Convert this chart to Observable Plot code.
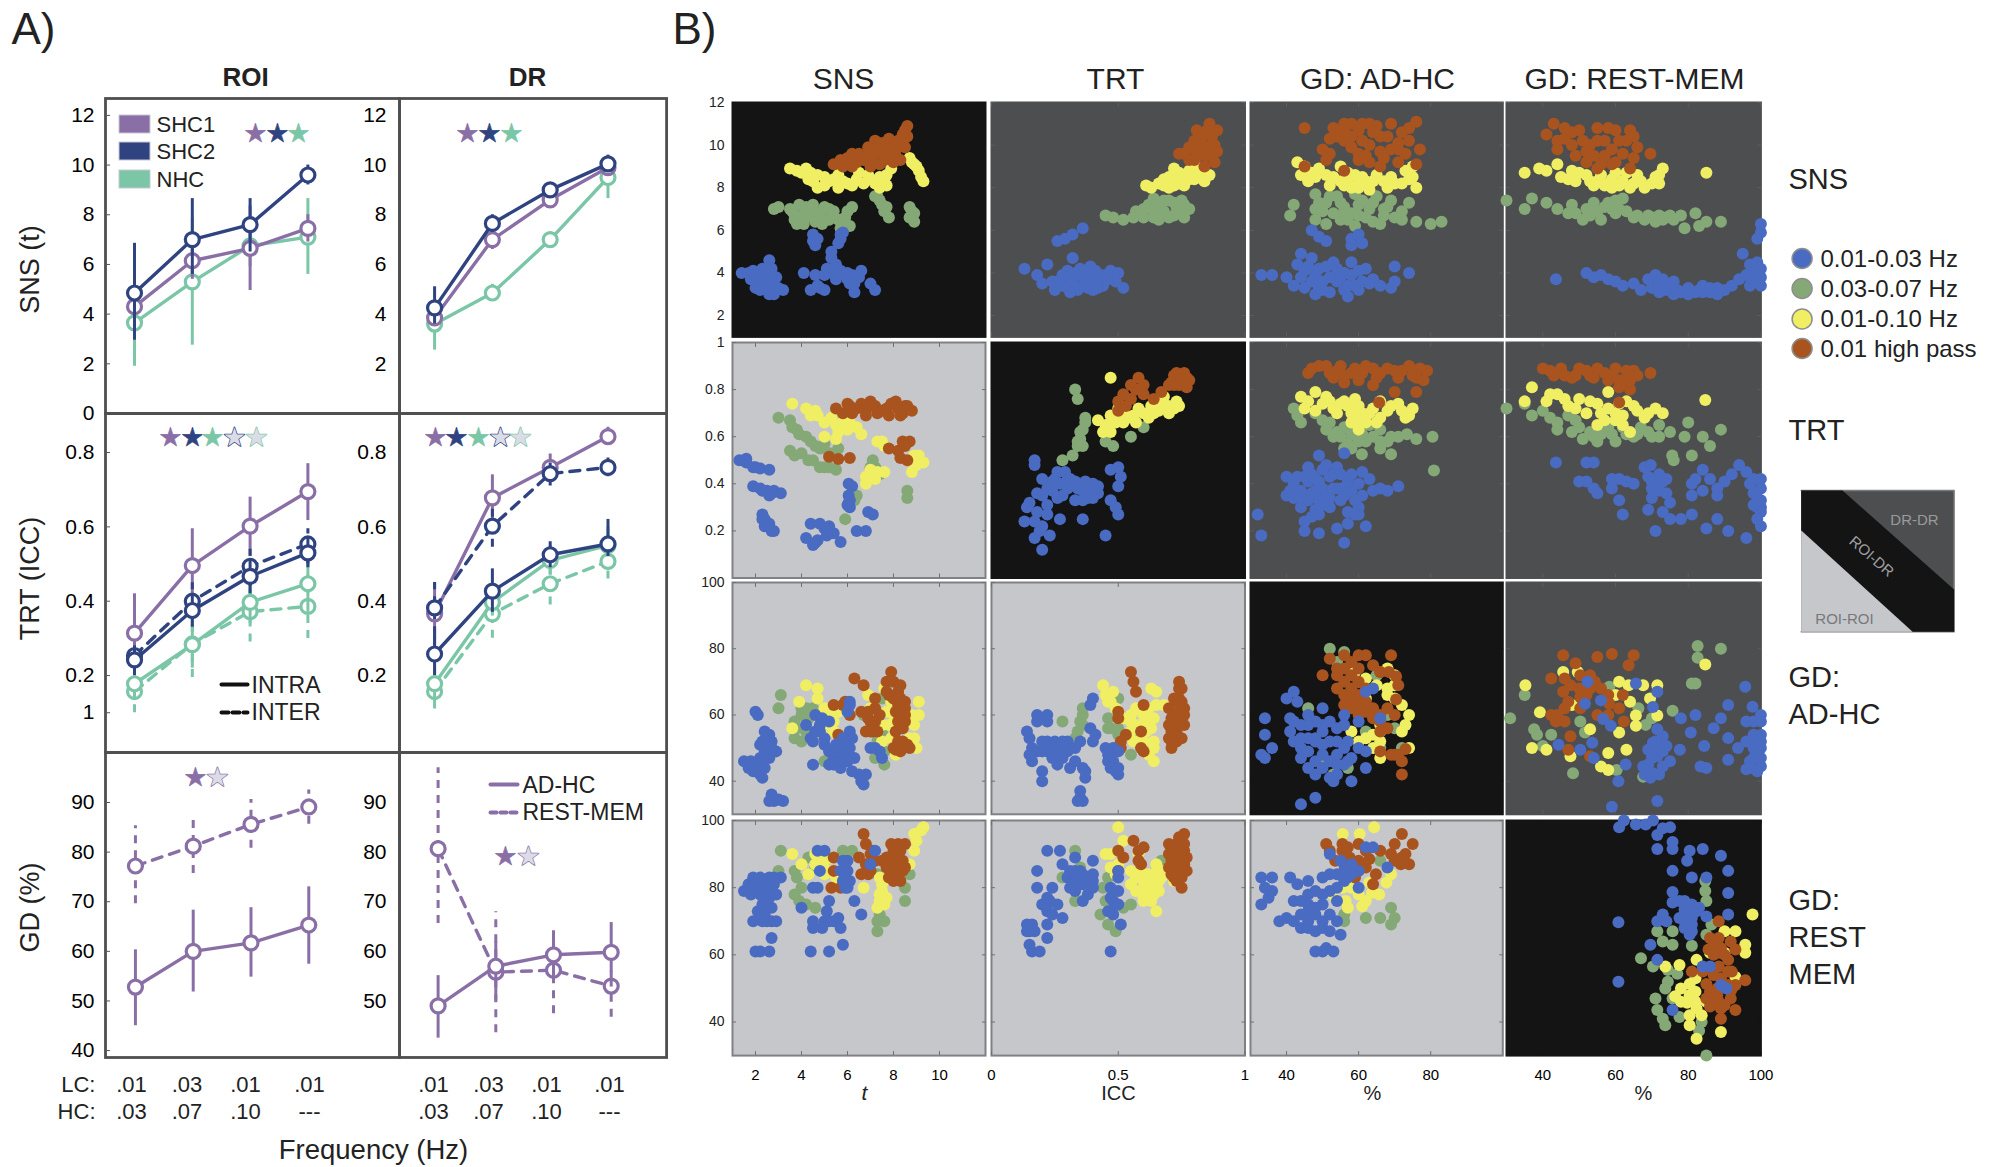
<!DOCTYPE html>
<html><head><meta charset="utf-8">
<script src="https://cdn.jsdelivr.net/npm/d3@7"></script>
<script src="https://cdn.jsdelivr.net/npm/@observablehq/plot@0.6"></script>
<style>
html,body{margin:0;padding:0;background:#fff}
#page{position:relative;width:2001px;height:1167px;overflow:hidden;background:#fff;font-family:"Liberation Sans",sans-serif}
#page svg{position:absolute;overflow:visible;max-width:none;background:transparent}
</style></head><body><div id="page"></div>
<script>
// ---------- Panel A values ----------
const freqIndex=[0,1,2,3];
const purple="#8a6fa6", navy="#2f4380", mint="#7cc6a8";
const snsRoiShc1=[4.3,6.15,6.65,7.45], snsRoiShc1Lo=[3.6,5.4,4.95,6.9], snsRoiShc1Hi=[5,6.9,8.35,8];
const snsRoiShc2=[4.85,7,7.6,9.6], snsRoiShc2Lo=[2.95,5.6,6.5,9.2], snsRoiShc2Hi=[6.85,8.65,8.65,10];
const snsRoiNhc=[3.65,5.3,6.75,7.1], snsRoiNhcLo=[1.9,2.75,5.9,5.6], snsRoiNhcHi=[5.4,7.85,7.6,8.65];
const snsDrShc1=[3.85,7,8.6,9.9], snsDrShc1Lo=[3.5,6.6,8.3,9.7], snsDrShc1Hi=[4.4,7.4,8.9,10.1];
const snsDrShc2=[4.25,7.65,9,10.05], snsDrShc2Lo=[3.6,7.3,8.7,9.8], snsDrShc2Hi=[5.1,8,9.3,10.4];
const snsDrNhc=[3.6,4.85,7,9.5], snsDrNhcLo=[2.55,4.6,6.7,8.65], snsDrNhcHi=[4.5,5.2,7.3,10.3];
const trtRoiShc1=[.314,.496,.602,.695], trtRoiShc1Lo=[.21,.4,.52,.617], trtRoiShc1Hi=[.42,.595,.68,.77];
const trtRoiShc2=[.242,.375,.467,.53], trtRoiShc2Lo=[.2,.33,.42,.49], trtRoiShc2Hi=[.28,.42,.51,.57];
const trtRoiShc2Inter=[.254,.4,.494,.554], trtRoiShc2InterLo=[.21,.35,.44,.5], trtRoiShc2InterHi=[.29,.45,.54,.595];
const trtRoiNhc=[.178,.283,.397,.447], trtRoiNhcLo=[.14,.22,.34,.37], trtRoiNhcHi=[.22,.35,.46,.52];
const trtRoiNhcInter=[.157,.285,.372,.386], trtRoiNhcInterLo=[.1,.195,.29,.3], trtRoiNhcInterHi=[.21,.37,.45,.47];
const trtDrShc1=[.366,.678,.76,.843], trtDrShc1Lo=[.28,.6,.72,.82], trtDrShc1Hi=[.45,.74,.796,.868];
const trtDrShc2=[.258,.427,.525,.554], trtDrShc2Lo=[.2,.37,.49,.52], trtDrShc2Hi=[.31,.487,.56,.62];
const trtDrShc2Inter=[.382,.602,.743,.76], trtDrShc2InterLo=[.31,.545,.71,.735], trtDrShc2InterHi=[.45,.65,.775,.785];
const trtDrNhc=[.178,.397,.51,.55], trtDrNhcLo=[.13,.36,.47,.52], trtDrNhcHi=[.22,.43,.55,.6];
const trtDrNhcInter=[.157,.366,.447,.507], trtDrNhcInterLo=[.11,.3,.39,.46], trtDrNhcInterHi=[.2,.43,.5,.55];
const gdRoiAd=[52.8,60,61.7,65.3], gdRoiAdLo=[45,51.8,54.8,57.4], gdRoiAdHi=[60.3,68.3,68.8,73];
const gdRoiRest=[77.2,81.2,85.6,89.1], gdRoiRestLo=[69.6,75.7,80.8,85.6], gdRoiRestHi=[85.3,87,90.6,92.5];
const gdDrAd=[49,57,59.3,59.8], gdDrAdLo=[42.5,50,54,52.8], gdDrAdHi=[55.1,62,63,65.8];
const gdDrRest=[80.7,55.8,56.2,53], gdDrRestLo=[65.6,43.6,47.4,46.7], gdDrRestHi=[97,68,65.4,56];

// ---------- Panel B values: flat x,y pairs. blue .01-.03, green .03-.07, yellow .01-.10, brown .01 hp ----------
const s11b=[1.4,4,1.7,4,2,3.7,2.3,4.2,2.6,4.6,2.7,4.2,2.9,3.8,2.4,3.6,2.7,3.4,3.2,3.2,2.2,3.2,2.6,3,2.8,3,2,3.3,2.5,3.9,1.8,3.7,3,3.3,2.7,3.7,4.1,4,4.6,3.9,5.3,4,5.3,4.7,5.3,5,5.5,4.4,5.1,4.2,5.6,3.9,6.2,3.9,6.6,4.1,6,3.7,6.3,3.5,6.3,3.1,7,3.5,7.2,3.2,4.4,3.2,5,3.2,4.7,3.4,5.7,4.1,4.5,5.8,4.7,5.6,4.6,5.3,4.5,5.5,5.7,5.8,5.6,5.4,5.8,5.9,5.7,5.6,1.9,4.1,2.2,3.6,2.4,4,2.5,3.3,2.9,3.3,5,3.9,5.5,3.7,5.4,4.2,6,4,6.5,3.8,6.1,3.5,4.8,3.3,2,3.9];
const s11g=[2.8,7,3,7.1,4,6.7,3.7,6.5,3.9,7.2,4.2,7.1,4.5,7.2,5,7.1,4.5,6.6,3.7,6.7,4.1,6.3,4.6,6.4,5,6.5,5.4,6.9,5.9,6.6,6.2,7.1,6.1,6.2,5.7,6.1,5.9,6.3,7.3,7.6,7.5,7.2,7.6,6.9,7.8,6.6,8.7,7.1,8.9,6.8,8.9,6.4,8.7,6.6,7.4,7.4,3.5,7,3.6,6.9,3.8,6.3,4.2,6.7,4.6,6.9,4.8,6.8,4.9,6.3,5.2,7,5.2,6.5,5.6,6.5,6,6.9,7.2,7.6,7.7,7.1,8.8,6.9];
const s11y=[3.5,8.9,4,8.7,4.3,8.4,4.7,8,4.7,8.6,5.2,8.3,5.6,8,5.6,8.6,6,8.2,6.4,8.4,6.7,8.2,7,8.4,7.4,8.5,7.4,8,7.7,8.6,7.9,8.9,8.7,9.4,8.9,9.1,9.1,8.8,9.2,8.5,9.3,8.3,3.8,8.8,4.2,8.9,4.5,8.3,5,8.5,5,8.1,5.4,8.4,5.8,8.3,6.2,8.1,6.5,8.7,6.9,8.6,7.2,8.2,7.6,8.3,7.7,8.1,4.4,8.7,8.8,9.2,9,9];
const s11o=[5.4,9.1,5.7,9.3,6,9.4,6.4,9.2,6.5,9.6,6.9,9.5,7.2,9.6,7.2,10.2,7.5,10.1,7.9,10,7.6,9.5,8.1,9.5,8.2,9.9,8.4,10.1,8.4,10.5,8.6,10.9,8.6,10.4,8,9.2,7,9,7.4,9.1,5.8,9,6.2,9,6.7,9.3,6.9,9.9,7.3,9.9,7.7,9.8,7.8,10.3,8,9.7,8.3,9.3,8.5,9.9,8.5,10.7,8.2,10.2,7,9.3,7.6,9.3,6.2,9.6];
const s12b=[.13,4.2,.18,3.9,.2,3.5,.25,3.2,.26,3.6,.3,3.8,.3,4.1,.32,4.7,.22,4.4,.35,3.9,.36,3.4,.35,4.2,.39,4.3,.4,3.7,.4,3.2,.43,3.9,.44,3.4,.45,3.9,.47,4.1,.5,4,.49,3.6,.52,3.3,.42,3.5,.26,5.5,.29,5.6,.32,5.8,.36,6.1,.24,3.6,.28,3.4,.3,3.3,.32,3.6,.33,4,.37,3.8,.38,3.3,.41,4.1,.42,3.3,.46,3.7,.36,4,.34,3.2,.28,3.9,.31,3.1,.37,4.1];
const s12g=[.45,6.7,.52,6.5,.57,6.9,.6,6.6,.62,7.2,.66,6.5,.66,7,.7,7.4,.72,6.7,.75,7.4,.78,7,.76,6.6,.64,7.5,.68,6.9,.73,7,.48,6.6,.56,6.6,.6,7,.64,6.9,.68,7.4,.7,6.6,.72,7.3,.74,6.9,.64,6.6,.76,7.2,.66,7.3];
const s12y=[.61,8.1,.66,8.2,.7,8.5,.7,8,.74,8.2,.76,8.6,.72,8.9,.78,8.8,.8,9.2,.8,8.4,.84,8.3,.86,8.6,.83,8.9,.63,8,.68,8.4,.72,8.4,.74,8.7,.76,8.1,.8,8.7,.78,8.4,.68,8.1,.82,8.5,.72,8.1];
const s12o=[.74,9.6,.78,9.9,.8,9.3,.84,9,.85,9.5,.88,9.2,.89,9.7,.83,10.3,.87,10.4,.89,10.7,.86,11,.81,10.7,.83,10,.87,10,.8,9.8,.76,9.6,.8,10.2,.84,9.7,.85,10.7,.88,10,.82,9.5,.78,9.3,.87,9.6];
const s13b=[33,3.9,36,3.9,40,3.8,42,3.4,43,4.4,44,4.9,46,4.3,45,3.3,48,3.9,48,3,50,3.6,51,4.3,52,3.1,54,3.6,54,4.2,56,3.2,58,3.9,58,4.5,60,3.2,61,3.6,62,4.2,64,3.7,66,3.4,69,3.3,70,3.6,70,4.3,74,4,57,2.9,47,6,49,5.7,51,5.5,58,5.6,60,5.8,58,5.3,61,5.4,47,3.6,47,4.7,49,4.2,50,3.2,52,3.8,53,4.5,55,3.8,56,4,57,3.4,59,3.4,49,3.3,60,4.1,63,3.5,44,3.8,45,4.1];
const s13g=[42,7.2,41,6.7,48,7.7,48,7,48,6.5,51,7.3,53,6.8,54,7.6,56,7.1,57,6.5,59,7.7,60,7.2,62,6.6,63,7,65,7.6,66,6.3,68,7.1,70,6.6,72,6.9,74,7.3,59,6.2,76,6.4,80,6.3,83,6.4,49,7.3,50,6.9,51,6.3,52,7.6,55,6.5,56,6.9,58,6.8,60,6.7,61,7.4,64,6.4,64,7.3,67,7,67,6.7,69,7.4,72,6.5,55,7.3];
const s13y=[43,9.2,44,8.6,46,8.3,48,8.5,51,8.6,52,8.1,55,8.3,55,9,58,8,59,8.6,62,8.3,63,7.9,65,8.6,68,8,69,8.5,72,8.2,75,8.5,76,8,73,8.8,75,9,45,9,49,8.9,53,8.5,57,8.4,60,8.2,61,8.5,64,8.3,67,8.3,70,8.2,74,8.4,57,8.7,47,8.7,56,8.1,60,8];
const s13o=[45,10.8,50,9.8,51,9.3,45,9,53,10.8,56,11,56,10.2,60,10.7,60,9.6,63,11,63,10,63,9.2,66,10.4,69,9.8,69,11,72,10.6,74,10.2,76,11.1,77,9.8,76,9.1,71,9.2,56,8.8,66,9,60,9.3,52,9.6,54,10.4,56,10.7,58,11,58,10.4,58,9.9,61,10.2,61,11,65,10.9,66,9.7,68,10.4,71,10.1,71,9.8,73,9.6,74,10.8,62,9.5,64,10.6,52,10.3,67,9.4];
const s14b=[43.6,3.7,52,4,54,3.8,56,3.9,58,3.7,60,3.6,62,3.4,65,3.5,67,3.2,69,3.7,70,3.3,71,3.9,72,3.1,74,3.5,76,3,78,3.1,80,3,82,3.1,84,3.4,84,3.1,86,3.1,88,3,90,3.2,92,3.4,94,3.7,96,3.9,97,3.4,99,3.8,100,4.2,100,3.4,97,4.4,95,4.9,100,5.9,99,5.6,100,6.3,72,3.5,73,3.7,74,3.2,75,3.4,76,3.6,77,3.2,80,3.3,83,3.2,86,3.3,88,3.3,98,4,98,3.6,100,3.8,99,4.5];
const s14g=[30,7.4,35,7,37,7.5,41,7.3,44,7,47,6.8,48,7.2,51,6.5,52,7,55,6.9,56,6.5,58,7.3,60,6.8,62,7.5,63,6.9,65,6.6,68,6.5,70,6.6,72,6.7,74,6.6,76,6.5,78,6.7,79,6.1,82,6.8,83,6.2,85,6.4,89,6.4,49,6.8,53,6.7,54,7.3,57,7.1,59,7,61,7,60,7.4,66,6.7,69,6.7,71,6.4,73,6.5,75,6.7];
const s14y=[35,8.7,39,8.9,41,8.8,44,9.1,45,8.5,48,8.8,49,8.3,52,8.6,54,8.1,56,8.6,58,8.2,60,8.7,62,8.3,64,8,66,8.6,68,8,71,8.5,73,8.9,72,8.2,85,8.7,47,8.4,50,8.7,53,8.3,55,8.3,57,8.1,59,8.4,61,8.1,63,8.7,65,8.2,67,8.3,70,8.2,72,8.6,59,8];
const s14o=[43,11,41,10.5,44,10.2,46,10.8,48,10,49,9.5,50,10.7,52,9.2,53,10,55,10.8,57,9.5,57,10.2,59,9.1,60,10.7,62,9.6,63,10.2,65,9.4,66,9.9,69.6,9.6,55,8.9,64,8.9,44,9.8,46,10.3,51,10.2,54,9.5,55,10.2,58,10.8,59,9.8,61,10.2,64,10.7,48,10.6,52,9.7,60,9.2,65,10.4,56,9.1];
const s21b=[1.3,.5,1.6,.506,1.9,.47,2.2,.465,2.6,.46,1.9,.39,2.2,.38,2.5,.37,2.8,.37,3.1,.36,2.6,.35,2.3,.27,2.4,.25,2.6,.23,2.8,.2,2.3,.25,2.7,.2,4.4,.23,4.8,.23,5.2,.22,5.4,.19,4.2,.17,4.5,.14,4.7,.16,5.7,.153,6.4,.2,6.8,.2,6.05,.4,6.2,.39,6,.31,6.05,.32,6.1,.3,6.9,.28,7.1,.27,2,.47,1.6,.49,2.3,.37,2.7,.36,2.4,.22,4.6,.15,5,.21,5.1,.18,6.1,.33,6.05,.35];
const s21g=[3,.68,3.5,.67,3.8,.63,3.9,.61,4.4,.58,4.8,.55,5.2,.53,5.6,.55,3.5,.54,4,.53,4.5,.5,5,.47,5.5,.46,7.1,.5,7.2,.47,8.6,.37,8.6,.34,6.4,.35,6.3,.33,5.9,.25,7.4,.44,3.6,.64,4.2,.6,4.6,.56,5,.57,5.4,.53,3.7,.52,4.3,.5,4.8,.47,5.2,.47,7,.47];
const s21y=[3.6,.74,4.2,.72,4.7,.69,5,.66,5.5,.65,6,.63,5.6,.62,6.4,.64,5,.6,7.3,.58,7.6,.56,8.9,.52,9,.48,9.3,.49,8.8,.45,6.8,.43,7.2,.42,7.6,.45,6.8,.4,4.4,.69,5.3,.68,5.8,.66,6.1,.66,6.6,.61,5.5,.59,4.6,.71,8.9,.49,9.1,.52,7,.46,7.3,.45,7.5,.58];
const s21o=[5.5,.72,6,.74,6.2,.7,6.6,.74,7,.75,7.3,.7,7.7,.72,8.1,.75,8.4,.7,8.8,.71,8.6,.73,7.8,.69,7.8,.55,8.2,.54,8.4,.58,8.7,.58,5.2,.515,5.6,.505,6.1,.51,8.3,.51,8.6,.5,5.8,.7,6.4,.72,6.8,.71,7.2,.73,7.5,.71,7.9,.74,8.2,.72,8.5,.73,8.3,.69,6.8,.69,6.1,.73,8.5,.56];
const s22b=[.17,.5,.17,.48,.26,.45,.24,.41,.22,.38,.27,.4,.31,.42,.34,.38,.37,.41,.4,.4,.42,.36,.38,.34,.33,.33,.28,.35,.2,.35,.15,.32,.14,.3,.18,.28,.22,.31,.13,.24,.2,.22,.23,.18,.17,.17,.2,.12,.27,.25,.36,.25,.45,.18,.47,.46,.5,.47,.51,.43,.5,.39,.47,.33,.49,.3,.5,.27,.3,.42,.2,.42,.24,.37,.26,.34,.3,.38,.33,.41,.36,.37,.38,.38,.42,.39,.4,.34,.36,.33,.18,.36,.22,.27,.19,.2,.17,.24,.25,.42,.29,.45];
const s22g=[.33,.8,.34,.76,.37,.68,.36,.63,.35,.59,.34,.56,.32,.52,.28,.5,.45,.58,.48,.56,.55,.6,.6,.64,.35,.62,.34,.58,.37,.66,.36,.56];
const s22y=[.47,.85,.42,.67,.44,.62,.47,.69,.47,.62,.5,.72,.52,.66,.56,.69,.6,.7,.63,.73,.66,.71,.68,.77,.73,.75,.7,.7,.74,.73,.45,.65,.49,.66,.5,.69,.54,.68,.58,.72,.62,.68,.64,.7,.67,.74,.7,.73,.72,.72,.52,.71,.57,.66];
const s22o=[.5,.75,.5,.71,.52,.78,.55,.82,.55,.76,.58,.85,.6,.82,.6,.78,.64,.76,.67,.79,.7,.82,.73,.87,.76,.87,.78,.84,.74,.82,.77,.81,.75,.85,.71,.83,.53,.73,.57,.8,.72,.86,.74,.85,.77,.85,.72,.82];
const s23b=[32,.27,33,.18,40,.43,41,.37,40,.35,43,.43,44,.37,44,.3,46,.47,46,.41,46,.33,48,.42,48,.37,48,.29,49,.52,50,.46,50,.38,52,.43,52,.34,52,.3,54,.47,54,.38,55,.33,56,.53,58,.44,58,.37,60,.3,57,.28,63,.42,64,.37,66,.38,68,.37,71,.39,45,.24,47,.26,49,.27,45,.2,49,.19,54,.21,62,.22,56,.15,60,.27,59,.27,57,.23,42,.34,42,.4,44,.34,45,.43,47,.36,47,.44,49,.33,49,.41,51,.35,51,.48,53,.38,53,.44,55,.38,55,.44,56,.35,57,.41,60,.4,59,.33,61,.35,61,.45,50,.31];
const s23g=[42,.72,43,.69,44,.66,48,.7,50,.67,52,.66,54,.62,56,.64,58,.61,60,.58,63,.65,66,.63,66,.58,69,.6,71,.6,73.4,.61,76,.59,80.5,.6,66,.55,80.9,.456,69,.525,60.9,.525,51,.63,53,.6,55,.6,57,.57,59,.63,61,.61,64,.6,62,.58,68,.58,58,.55,56,.55];
const s23y=[44,.77,46,.75,48,.79,51,.77,53,.72,56,.75,58,.7,60,.73,63,.7,66,.75,68,.71,71,.74,73,.68,75,.72,58,.66,62,.66,48,.71,60,.63,50,.74,52,.75,54,.7,55,.74,57,.73,59,.76,61,.7,64,.72,66,.68,69,.73,72,.71,74,.69,60,.67,65,.66,45,.72];
const s23o=[46,.87,49,.9,52,.87,55,.9,58,.87,60,.84,62,.9,65,.85,68,.89,71,.85,74,.9,76,.85,79,.88,78,.84,56,.83,64,.82,70,.79,65.7,.745,76,.79,47,.89,51,.9,53,.85,56,.86,59,.89,61,.87,64,.89,66,.87,70,.88,72,.88,77,.89,75,.86,54,.88];
const s24b=[43.6,.49,52,.49,54,.49,52,.41,50,.41,54,.38,55,.36,59,.42,59,.38,61,.33,61,.42,63,.41,65,.4,68,.47,69,.43,70,.38,70,.34,72,.44,72,.37,73,.41,74,.36,75,.32,69,.29,73,.28,75,.25,78,.25,62,.27,71,.2,81,.35,81,.4,84,.46,82,.42,84,.37,86,.42,88,.38,90,.41,88,.35,92,.44,94,.48,96,.45,97,.4,98,.36,99,.3,100,.42,100,.28,100,.22,91,.2,88,.25,85,.21,96,.17,81,.27,69.7,.48,98,.42,100,.38,99,.34,100,.33,98,.31,72,.4,74,.42,70,.41,100,.3,99,.25];
const s24g=[30,.72,35,.74,37,.69,40,.71,42,.68,44,.63,47,.69,49,.67,51,.59,53,.62,55,.58,57,.65,59,.61,62,.64,65,.6,67,.64,70,.6,72,.65,75,.62,79,.6,80,.66,84,.6,86,.56,89,.63,76,.5,75.6,.52,81,.52,44,.66,48,.62,50,.64,54,.6,56,.61,58,.64,60,.58,63,.61,66,.61,69,.62,72,.6];
const s24y=[37,.81,35,.75,41,.75,44,.78,47,.73,50,.76,52,.7,55,.74,58,.79,60,.7,63,.75,66,.71,68,.68,71,.72,73,.7,55,.65,60,.67,64,.62,84.7,.756,42,.78,46,.76,49,.72,53,.75,56,.7,58,.72,61,.74,62,.69,65,.73,69,.7,57,.67,62,.65];
const s24o=[40,.89,43,.86,45,.89,48,.85,50,.89,53,.86,55,.89,58,.84,60,.89,63,.85,65,.88,62,.82,64,.8,69.6,.87,61,.745,42,.88,46,.86,49,.86,52,.88,54,.85,57,.87,59,.86,61,.84,63,.88,66,.86,64,.84,61,.81];
const s31b=[1.5,46,1.7,44,1.9,43,2.2,42,2.3,41,2.1,45,2.4,44,2.6,47,2.4,49,2.2,51,2.7,52,2.6,54,2.4,55,2.9,49,2.7,50,2.2,47,2.5,52,2,61,2.1,60,2.7,36,2.8,34,3,34.5,3.2,34,2.6,34,4.2,57,4.4,53,4.6,55,4.6,60,4.9,59,5.2,58,4.8,57,4.5,52,4.5,45,5,51,5.2,49,5.4,47,5.2,45,5.6,46,5.8,50,5.9,48,6,53,6.1,55,6.1,50,6.3,47,6.2,53,5.5,51,6.1,64,6,61,6.1,63,6.2,43,6.5,42,6.6,40,6.7,39,6.8,42,7.2,50,7.4,49,7.5,47,7,50,2.3,46,2.5,50,2.3,52,2,44,1.8,46,4.8,55,5,53,5.4,49,5.6,49,5.4,45,5.8,53,5.7,44,6,46];
const s31g=[3.1,66,3,62,3.7,58,4,62,4.2,62,4.5,62,4.7,60,3.7,53,4,52,4.2,55,5,46,7.3,52,7.6,49,7.6,45,7.2,47,7.5,55,7.5,65,6.7,60,7,58,8,60,4,60,4.3,59,3.8,56];
const s31y=[4.2,69,4.7,68,3.9,64,4.7,65,5,62,5.2,60,3.6,56,5.4,58,4.9,54,5.6,61,6.9,66,7,62,7.5,57,7.9,53,8,60,7.6,68,8.8,60,9.1,60,9.1,64,8.9,57,9,50,8.7,53,7.5,52,5,57,5.4,55,8.1,48,7.8,57,7.7,61,7.9,64,8.9,53];
const s31o=[5.4,63,5.8,63,5.6,54,6.1,60,5.9,64,6.3,71,6.7,69,6.6,61,7,58,7.2,62,7.1,55,7.4,60,7.3,55,6.8,55,7.7,70,7.9,73,8,70,8.2,67,8.3,69,7.8,66,8.5,64,8.5,62,8.1,61,8.2,58,8.1,55,8.2,52,8.3,49,8,50,8.6,51,8.7,50,8.4,56,8.5,60,6.9,59,7.2,58,6.9,61,7.2,65,7.7,67,8,65,8.3,65,8.2,63,8.5,58,8.4,52,8.1,49.5,7,55];
const s32b=[.14,55,.15,53,.16,50,.16,46,.18,60,.18,58,.22,60,.22,58,.2,52,.22,49,.24,47,.25,52,.26,45,.27,50,.3,52,.3,49,.33,50,.31,44,.35,52,.2,49,.2,43,.2,40,.36,44,.37,41,.37,43,.35,37,.35,35,.36,34,.34,34,.4,65,.39,63,.39,56,.41,54,.4,52,.45,50,.46,48,.48,46,.5,44,.5,42,.48,50,.5,49,.24,50,.26,48,.28,47,.22,52,.33,46,.46,46,.47,44,.49,43,.18,49,.15,48,.28,52];
const s32g=[.28,58,.33,53,.34,55,.35,58,.36,60,.36,62,.36,57,.46,59,.47,56,.5,54,.5,65,.49,50,.55,48,.57,52,.34,52,.46,56,.5,56];
const s32y=[.44,69,.45,66,.47,64,.49,62,.48,67,.52,59,.55,60,.55,55,.58,57,.6,60,.58,52,.62,62,.63,56,.64,52,.64,46,.63,68,.65,67,.62,48,.64,59,.68,63,.55,58,.57,62,.59,61,.6,52,.62,58,.61,55,.56,52,.65,63,.46,64,.64,50];
const s32o=[.55,73,.56,70,.57,67,.6,63,.5,61,.5,59,.51,52,.51,50,.53,54,.59,55,.59,50,.6,49,.74,70,.75,68,.74,65,.7,62,.72,60,.75,59,.7,57,.73,55,.76,57,.7,53,.73,52,.71,50,.74,61,.76,62,.73,64,.72,57,.71,59,.74,57,.71,55,.75,53,.72,53,.75,64,.73,59,.76,60,.72,65,.74,68,.71,52];
const s33b=[34,59,34,54,33,48,36,50,34,47,40,65,43,64,42,67,41,59,41,55,42,52,44,50,44,47,46,44,48,42,46,49,48,52,50,55,50,62,52,58,52,52,54,48,54,45,53,40,50,48,48,58,46,57,56,60,54,56,57,52,58,47,58,40,57,46,60,58,62,49,60,50,62,67,64,68,48,53,44,33,48,35,62,44,66,59,44,53,46,53,48,46,50,51,50,44,52,46,54,52,56,45,56,50,46,60,44,57,42,58,52,41,54,42,50,57,56,57];
const s33g=[52,80,56,79,54,76,46,62,62,55,68,60,70,56,72,50,66,50,57,44,53,42,60,70,65,72,50,47];
const s33y=[62,71,65,69,68,74,70,72,70,65,72,63,74,60,73,57,62,65,64,60,66,57,66,55,62,53,64,50,66,47,58,55,60,52,74,50,59,73,70,69,68,68,64,54,66,52,68,66,72,55];
const s33o=[52,77,54,74,50,72,56,78,58,76,60,78,62,78,64,75,66,73,69,78,68.4,73,70.4,71.6,71,69,66,73,70.4,64.7,56,70,58,68,60,66,58,65,60,63,56,63,62,61,60,60,64,59,66,58,68,56,70,60,68,62,70,48,71,48,72,46,73,49.7,72,42,69,48,66,49,54,68,56,66,54,72,58,72,60,74,62,68,58,62,60,70,64,62,66,60,56,74,66,55,62,64];
const s34b=[95.7,68.5,91,63,97.7,62.5,100,60,96,58,98,58,100,58,89,59,78,59,82,60,80.7,54.7,87,56,91,53,98,54,100,54,100,50,98,50,93.7,50,97,46,100,44.5,96,43.6,91,46.5,83.4,44.4,85,44,84.4,50.6,77.7,49.5,70.3,51.6,73,53.6,74,50.6,69,49.5,71.5,47.5,67.6,44.4,70.3,42.4,73,44.4,71.5,55.7,69.6,41,60.8,40,62.8,45,71.5,34,59,32.3,51.6,63.4,56,64.4,52.3,70,65.6,69.5,71.5,67,70.3,62.4,56.6,58.8,58.7,56.7,53.6,51.6,44.3,51,50.3,49.5,54,47,72,50,71,52,73,49,70,47,69,45,72,42,68,42,75,46,100,47,98,47,96,52,99,52,100,52,97,44,99,43];
const s34g=[82.6,80.8,89,80,82.6,77.3,81,69.5,82,69.5,75.7,61.3,35,66,31,59,37.6,55.7,38.4,54,68.3,57,70,59,66.3,62,58.3,68.5,50.3,58,51.6,54.7,42.3,54,40,50.6,48.3,42.4,67.6,41.3,60.3,43.4];
const s34y=[84.7,75.2,35.2,69,39.2,60.8,37,50,41,49.5,45.6,73,49.6,73,61,70,63.6,69,67.6,69,71.5,69,69.5,65,65.6,59.8,65.6,56.7,71.5,59.8,61,54.7,63,49.5,47.6,47.5,58,48.5,56,44.4,58,43.4,53,55.7,48,63,60,66,64,64];
const s34o=[45.6,78,49,75.6,55,77.5,59,78.4,65,78,63.6,75,50.3,72,42.3,71,47.6,69,53,68,45.6,67,50.3,65.4,54.3,70,62,66,58.3,63.4,46,62,42.3,60,43.6,58,50.3,62,55,60,61,62,62.3,58,47.6,53.6,47,49.5,53,47.5,46,71,50,68,53,72,47,64,52,66,56,68,58,60,44,60,46,58,58,66];
const s41b=[1.5,79,1.7,81,1.9,83,2.2,83,2.4,81,2.1,79,1.8,78,2.4,77,2.6,79,2.8,81,3.1,83,2.8,83,2.5,75,2.4,72,2.1,73,1.9,70,2.7,70,2.9,70,2.5,70,2.7,65,2,61,2.2,61,2.6,61,4,74,4.5,80,4.7,80,4.7,91,5,91,4.8,85,5.2,76,5.1,73,5,70,5.4,70,5.7,68,5.6,71,4.5,70,4.5,68,4.4,61,5.2,61,5.8,63,5.7,85,6,88,6,85,6.1,82,5.9,80,5.8,88,6.3,76,6.6,72,7,87,7.2,91,2,81,2.2,81,2.6,83,1.9,79,2.3,75,2.7,74,2.3,70,2.6,77,2.9,78,2.2,78,5.9,84,5.8,82,6,80,5.9,86,5.2,70,4.9,68];
const s41g=[3.1,91,3,85,3.7,85,3.8,83,4,80,3.7,78,3.9,76,4.2,75,4.6,74,4.3,89,5.8,91,6.2,91,7.3,84,7.3,70,7.4,72,7.3,67,7.6,70,8.5,80,8.5,76,8.7,84,4.6,86];
const s41y=[3.6,90,4,87,4.3,84,4.6,90,5,88,5.2,85,5.5,83,5.7,81,5.3,89,6.7,80,7.4,83,7.5,79,7.7,77,7.3,74,7.4,76,8.7,87,9,94,9.2,97,9.3,98,8.9,91,8.9,96,5,84,4.6,87,7.5,81,7.6,75,7.4,78];
const s41o=[5.4,89,5.4,85,5.3,80,5.7,80,6.7,96,6.8,93,7,90,6.6,84,6.9,84,7.2,88,7.5,88,7.9,93,8,88,8.2,93,8.5,93,8.4,88,7.9,85,8.2,84,8,82,8.3,82,8.5,86,8.1,90,7.7,86,6.5,89,8,91,8.3,91,7.7,89,8.1,86,8.4,85,7.8,83,7.1,91,6.8,87,7,85];
const s42b=[.18,85,.18,80,.14,69,.16,69,.14,67,.17,67,.15,63,.16,61,.19,61,.2,75,.22,73,.23,76,.24,80,.24,72,.22,69,.26,75,.28,71,.22,65,.22,91,.27,91,.28,87,.3,83,.33,82,.35,85,.33,89,.33,79,.36,81,.38,78,.36,76,.4,82,.4,88,.4,84,.38,83,.47,61,.47,77,.5,83,.5,79,.49,75,.48,72,.51,69,.46,73,.5,85,.31,80,.33,85,.35,81,.38,82,.36,84,.4,80,.31,85,.22,75,.22,77,.48,76,.5,75,.47,80,.15,67];
const s42g=[.33,91,.35,86,.28,83,.33,76,.44,80,.45,76,.43,72,.46,69,.49,67,.52,74,.46,83,.55,75,.67,88];
const s42y=[.5,98,.52,94,.45,90,.47,86,.49,84,.55,85,.55,81,.57,79,.6,82,.62,80,.63,76,.59,85,.64,84,.66,79,.65,73,.6,76,.65,87,.68,85,.72,82,.58,90,.6,77,.58,84,.6,80,.62,84,.64,81,.61,78,.63,82,.66,82,.57,83,.67,83,.64,78,.47,90,.5,87];
const s42o=[.52,89,.5,91,.56,94,.58,91,.6,92,.58,88,.59,87,.5,85,.7,93,.73,93,.76,96,.76,91,.7,90,.74,89,.76,87,.7,86,.73,86,.71,84,.75,83,.73,82,.75,80,.77,89,.72,91,.73,90,.75,91,.71,88,.74,84,.72,87,.72,83,.76,93,.74,95,.77,85];
const s43b=[33,83,34,80,35,77,33,75,36,83,41,83,43,81,42,76,38,70,40,71,42,70,44,68,46,70,48,67,50,70,52,67,48,72,46,75,50,75,48,79,46,82,50,83,52,79,54,76,54,70,55,66,51,62,50,61,48,61,53,61,52,90,55,88,56,85,54,84,57,83,60,80,60,85,62,92,64,92,68,86,58,87,36,79,44,72,46,73,44,76,48,74,46,78,50,78,52,72,50,68,52,84,54,80,56,82,58,84,46,68];
const s43g=[56,70,56,72,66,71,69,74,70,71,69,69,62,71,66,88];
const s43y=[55.6,96,60.3,96,64.3,98,52.9,78,55.6,80,56.4,76,57,74,61,74.5,65.7,78,63.7,78.5,69,84,67.7,81.5,63,81.5,58,80,60,78,62,76];
const s43o=[51,93,55.5,93,60,93,72,96,70,93,75,93,73,90,71.7,87,74,87,69,90,66,91,63,88.5,57.5,89,53.5,88,60,85,59,83,64.8,84,64,81,55.5,91,52,91,57,92,62,91,70,88,72,89,58,88,62,86,60,88,56,87];
const s44b=[61,98,62.3,100,65.6,98.8,68.3,98.8,70.3,100,73,97.7,75,98,71.5,95.7,75.7,93.6,71.5,91.5,75.7,91.5,80.4,91,84,91.5,79.7,88,89,89.5,91,85,75.7,85,81,83,85,83,75.7,78.7,91,78.4,75.7,75.6,77.6,76,81,75,79,73.5,82.3,73,77.6,71,81,71,85,71.4,91,72,73,72,71.5,70,60.8,69.7,74,70,79,68,81,67,80.4,66,69.6,63,60.8,52,71.5,58.5,86,56.5,84,56.5,90.5,50,75.7,43.6,89,51,79,76,81,73,80,72,79,71,83,74,79,70,81,69];
const s44g=[84.7,82,84.7,79,85,76,71.5,67,75.7,67,73,64,75.7,63,67,59,70.3,56.5,74.4,55.5,74.4,52,73.7,50,75.7,47,71,47,71.5,43.6,73,41,73.7,39,77.6,41.5,83.7,40,85,30,83,37.4,81,62.7,86.4,69,85,66,77,54.4];
const s44y=[97.7,72,93,67,95.7,63,95.7,60.6,90,67,73.7,56.5,77.6,57,82.3,58.5,80.4,51.3,80.4,48,76.4,47.7,79.7,45.7,82.3,44,80.4,42,83.7,42,80.4,39,82.3,35,89,37,85,46,90,60.6,93,53.4,86,60.6,82,53,78,50,82,49,78,46,82,46];
const s44o=[88.4,70,86,65,88.4,65,91.7,64,93,61.6,85.6,61.6,88.4,60.6,91,58.5,84,55,88.4,56.5,92,55,81,55,95.7,52.4,93,51,91.7,49.3,85,51.3,85,47,88.4,46,91.7,47,86,44.6,89,44,93,43.6,89,41,87,63,89,62,90,60,87,60,91,55,89,53,87,54,88,50,91,51,86,49,90,45,88,48,92,50,87,47];

// ---------- Tick values and text ----------
const snsTicksA=[0,2,4,6,8,10,12], trtTicksA=[.2,.4,.6,.8], gdTicksA=[40,50,60,70,80,90];
const lcLabels=[".01",".03",".01",".01"], hcLabels=[".03",".07",".10","---"];
const tTicks=[2,4,6,8,10], iccTicks=[0,.5,1], pctTicks3=[40,60,80], pctTicks4=[40,60,80,100];
const snsTicksB=[2,4,6,8,10,12], trtTicksB=[.2,.4,.6,.8,1], gdTicksB=[40,60,80,100];
const gridColors={blue:"#4a6bc2",green:"#85a877",yellow:"#f0ee62",brown:"#a9541f"};
const black="#141414", dark="#4d4e50", light="#c6c7ca";

const page=document.getElementById("page");
const ff='"Liberation Sans",sans-serif';
function place(opts,l,t,w,h){
  const s=Plot.plot({width:w,height:h,marginTop:0,marginRight:0,marginBottom:0,marginLeft:0,
    style:{background:"transparent",overflow:"visible",fontFamily:ff,position:"absolute",left:l+"px",top:t+"px"},...opts});
  page.appendChild(s);
}
function rows(v,lo,hi){return freqIndex.map(i=>({i,v:v[i],lo:lo[i],hi:hi[i]}));}
function series(v,lo,hi,color,dashed){
  const d=rows(v,lo,hi), dash=dashed?"10,8":null;
  return [
    Plot.ruleX(d,{x:"i",y1:"lo",y2:"hi",stroke:color,strokeWidth:3,strokeDasharray:dashed?"8,7":null}),
    Plot.line(d,{x:"i",y:"v",stroke:color,strokeWidth:3.4,strokeDasharray:dash}),
    Plot.dot(d,{x:"i",y:"v",r:7,fill:"white",stroke:color,strokeWidth:3.2})
  ];
}
function panelA(box,xd,yd,ticks,fmt,isRoi,marks){
  const axis=isRoi
    ?Plot.axisY(ticks,{anchor:"left",label:null,tickSize:-5,tickPadding:16,tickFormat:fmt,fontSize:21,stroke:"#555"})
    :Plot.axisY(ticks,{anchor:"left",label:null,tickSize:0,tickPadding:13,tickFormat:fmt,fontSize:21});
  place({x:{domain:xd,axis:null},y:{domain:yd,axis:null},marks:[Plot.frame({stroke:"#4f4f4f",strokeWidth:2.8}),axis,...marks]},box[0],box[1],box[2],box[3]);
}
const trtFmt=d=>d===.1?"1":d.toFixed(1);
panelA([105.4,98,294,315],[-.502,4.585],[0,12.68],snsTicksA,String,true,[
  ...series(snsRoiNhc,snsRoiNhcLo,snsRoiNhcHi,mint),...series(snsRoiShc1,snsRoiShc1Lo,snsRoiShc1Hi,purple),...series(snsRoiShc2,snsRoiShc2Lo,snsRoiShc2Hi,navy)]);
panelA([399.4,98,267.1,315],[-.607,4.014],[0,12.68],snsTicksA.slice(1),String,false,[
  ...series(snsDrNhc,snsDrNhcLo,snsDrNhcHi,mint),...series(snsDrShc1,snsDrShc1Lo,snsDrShc1Hi,purple),...series(snsDrShc2,snsDrShc2Lo,snsDrShc2Hi,navy)]);
panelA([105.4,413,294,339],[-.502,4.585],[-.007,.905],[.1,...trtTicksA],trtFmt,true,[
  ...series(trtRoiNhcInter,trtRoiNhcInterLo,trtRoiNhcInterHi,mint,true),...series(trtRoiNhc,trtRoiNhcLo,trtRoiNhcHi,mint),
  ...series(trtRoiShc1,trtRoiShc1Lo,trtRoiShc1Hi,purple),...series(trtRoiShc2Inter,trtRoiShc2InterLo,trtRoiShc2InterHi,navy,true),...series(trtRoiShc2,trtRoiShc2Lo,trtRoiShc2Hi,navy)]);
panelA([399.4,413,267.1,339],[-.607,4.014],[-.007,.905],trtTicksA,trtFmt,false,[
  ...series(trtDrNhcInter,trtDrNhcInterLo,trtDrNhcInterHi,mint,true),...series(trtDrNhc,trtDrNhcLo,trtDrNhcHi,mint),
  ...series(trtDrShc1,trtDrShc1Lo,trtDrShc1Hi,purple),...series(trtDrShc2Inter,trtDrShc2InterLo,trtDrShc2InterHi,navy,true),...series(trtDrShc2,trtDrShc2Lo,trtDrShc2Hi,navy)]);
panelA([105.4,752,294,305],[-.518,4.57],[38.6,100.08],gdTicksA,String,true,[
  ...series(gdRoiRest,gdRoiRestLo,gdRoiRestHi,purple,true),...series(gdRoiAd,gdRoiAdLo,gdRoiAdHi,purple)]);
panelA([399.4,752,267.1,305],[-.669,3.96],[38.6,100.08],gdTicksA.slice(1),String,false,[
  ...series(gdDrRest,gdDrRestLo,gdDrRestHi,purple,true),...series(gdDrAd,gdDrAdLo,gdDrAdHi,purple)]);

// ---------- Panel B ----------
const pairs=a=>{const o=[];for(let i=0;i<a.length;i+=2)o.push({x:a[i],y:a[i+1]});return o;};
const colsB=[{l:732.4,w:253,d:[1,12],t:tTicks},{l:990.5,w:253.5,d:[0,1],t:iccTicks},{l:1249.7,w:252.3,d:[30,100],t:pctTicks3},{l:1506,w:254.4,d:[30,100],t:pctTicks4}];
const rowsB=[{t:101.6,h:234.4,d:[1,12],k:snsTicksB},{t:341.5,h:235.5,d:[0,1],k:trtTicksB},{t:582,h:231.8,d:[30,100],k:gdTicksB},{t:819.7,h:235.1,d:[30,100],k:gdTicksB}];
const bgGrid=[[black,dark,dark,dark],[light,black,dark,dark],[light,light,black,dark],[light,light,light,black]];
const ptsGrid=[[[s11g,s11y,s11o,s11b],[s12g,s12y,s12o,s12b],[s13g,s13y,s13o,s13b],[s14g,s14y,s14o,s14b]],
[[s21g,s21y,s21o,s21b],[s22g,s22y,s22o,s22b],[s23g,s23y,s23o,s23b],[s24g,s24y,s24o,s24b]],
[[s31g,s31y,s31o,s31b],[s32g,s32y,s32o,s32b],[s33g,s33y,s33o,s33b],[s34g,s34y,s34o,s34b]],
[[s41g,s41y,s41o,s41b],[s42g,s42y,s42o,s42b],[s43g,s43y,s43o,s43b],[s44g,s44y,s44o,s44b]]];
const order=[gridColors.green,gridColors.yellow,gridColors.brown,gridColors.blue];
rowsB.forEach((R,r)=>colsB.forEach((C,c)=>{
  const bg=bgGrid[r][c], tk=bg===light?"#6f7073":bg===dark?"#5c5d60":"#141414";
  const marks=[Plot.frame({fill:bg,stroke:bg===light?"#808184":bg,strokeWidth:2}),
    Plot.axisX(C.t,{anchor:"top",label:null,tickSize:-4,tickFormat:()=>"",stroke:tk}),
    Plot.axisY(R.k,{anchor:"right",label:null,tickSize:-4,tickFormat:()=>"",stroke:tk}),
    c===0?Plot.axisY(R.k,{anchor:"left",label:null,tickSize:-4,tickPadding:12,tickFormat:String,fontSize:14,stroke:tk,color:"#222"})
         :Plot.axisY(R.k,{anchor:"left",label:null,tickSize:-4,tickFormat:()=>"",stroke:tk}),
    r===3?Plot.axisX(C.t,{anchor:"bottom",label:null,tickSize:-4,tickPadding:18,tickFormat:String,fontSize:15,stroke:tk})
         :Plot.axisX(C.t,{anchor:"bottom",label:null,tickSize:-4,tickFormat:()=>"",stroke:tk}),
    ...ptsGrid[r][c].map((a,i)=>Plot.dot(pairs(a),{x:"x",y:"y",r:6,fill:order[i],stroke:"none"}))];
  place({x:{domain:C.d,axis:null},y:{domain:R.d,axis:null},marks},C.l,R.t,C.w,R.h);
}));

// ---------- Page-level annotations (titles, legends, key) in page coordinates ----------
const textLabels=[
 {t:"A)",x:11,y:43,s:44},{t:"B)",x:672,y:43,s:44},
 {t:"SHC1",x:156,y:131,s:22},{t:"SHC2",x:156,y:158,s:22},{t:"NHC",x:156,y:186,s:22},
 {t:"INTRA",x:251,y:692,s:23},{t:"INTER",x:251,y:719,s:23},
 {t:"AD-HC",x:522,y:792,s:23},{t:"REST-MEM",x:522,y:819,s:23},
 {t:"SNS",x:1788,y:188,s:29},{t:"TRT",x:1788,y:439,s:29},
 {t:"GD:",x:1788,y:686,s:29},{t:"AD-HC",x:1788,y:723,s:29},
 {t:"GD:",x:1788,y:909,s:29},{t:"REST",x:1788,y:946,s:29},{t:"MEM",x:1788,y:983,s:29},
 {t:"0.01-0.03 Hz",x:1820,y:266,s:24},{t:"0.03-0.07 Hz",x:1820,y:296,s:24},{t:"0.01-0.10 Hz",x:1820,y:326,s:24},{t:"0.01 high pass",x:1820,y:356,s:24}
];
const centerLabels=[
 {t:"SNS",x:843,y:88,s:30},{t:"TRT",x:1115,y:88,s:30},{t:"GD: AD-HC",x:1377,y:88,s:30},{t:"GD: REST-MEM",x:1634,y:88,s:30},
 {t:"Frequency (Hz)",x:373,y:1158,s:27.5},
 {t:"ICC",x:1118,y:1099,s:20},{t:"%",x:1372,y:1099,s:20},{t:"%",x:1643,y:1099,s:20},
 ...lcLabels.flatMap((t,i)=>[{t,x:[131,186.5,245,309][i],y:1091,s:22},{t,x:[433,488,546,609][i],y:1091,s:22}]),
 ...hcLabels.flatMap((t,i)=>[{t,x:[131,186.5,245,309][i],y:1118,s:22},{t,x:[433,488,546,609][i],y:1118,s:22}])
];
const endLabels=[{t:"LC:",x:95,y:1091,s:22},{t:"HC:",x:95,y:1118,s:22}];
const boldTitles=[{t:"ROI",x:245,y:85},{t:"DR",x:527,y:85}];
const yTitles=[{t:"SNS (t)",x:30,y:269},{t:"TRT (ICC)",x:30,y:578},{t:"GD (%)",x:30,y:907}];
const legendSwatches=[{y1:115,y2:133,c:purple},{y1:142,y2:160,c:navy},{y1:170,y2:188,c:mint}];
const legendDots=[{y:258,c:gridColors.blue},{y:288,c:gridColors.green},{y:318.5,c:gridColors.yellow},{y:348,c:gridColors.brown}];
const solidStars=[
 {t:"★",x:255,y:133,c:purple},{t:"★",x:277,y:133,c:navy},{t:"★",x:298,y:133,c:mint},
 {t:"★",x:467,y:133,c:purple},{t:"★",x:489,y:133,c:navy},{t:"★",x:511,y:133,c:mint},
 {t:"★",x:170,y:437,c:purple},{t:"★",x:192,y:437,c:navy},{t:"★",x:212,y:437,c:mint},
 {t:"★",x:435,y:437,c:purple},{t:"★",x:456,y:437,c:navy},{t:"★",x:478,y:437,c:mint},
 {t:"★",x:195,y:777,c:purple},{t:"★",x:505,y:856,c:purple}
];
const hollowStars=[
 {t:"★",x:234,y:437,c:navy},{t:"★",x:256,y:437,c:mint},{t:"★",x:500,y:437,c:navy},{t:"★",x:520,y:437,c:mint},
 {t:"★",x:217,y:777,c:purple},{t:"★",x:528,y:856,c:purple}
];
const legendLines=[
 {id:"a",x:221,y:684,c:"#111",w:4,d:null},{id:"a",x:247,y:684,c:"#111",w:4,d:null},
 {id:"b",x:221,y:712,c:"#111",w:4,d:"7,4"},{id:"b",x:247,y:712,c:"#111",w:4,d:"7,4"},
 {id:"c",x:490,y:784,c:purple,w:4,d:null},{id:"c",x:517,y:784,c:purple,w:4,d:null},
 {id:"d",x:490,y:812,c:purple,w:4,d:"6,4"},{id:"d",x:517,y:812,c:purple,w:4,d:"6,4"}
];
const keyDark=[{x:1800.7,y:490},{x:1953.6,y:490},{x:1953.6,y:631.3},{x:1800.7,y:631.3}];
const keyBand=[{x:1842,y:490},{x:1953.6,y:589},{x:1953.6,y:631.3},{x:1912,y:631.3},{x:1800.7,y:530},{x:1800.7,y:490}];
const keyLight=[{x:1800.7,y:530},{x:1912,y:631.3},{x:1800.7,y:631.3}];
const keyText=[{t:"DR-DR",x:1914,y:520,r:0,c:"#9a9a9c"},{t:"ROI-DR",x:1871,y:556,r:41,c:"#a0a0a2"},{t:"ROI-ROI",x:1844,y:619,r:0,c:"#77787a"}];
const tx=(a,o)=>Plot.text(a,{x:"x",y:"y",text:"t",fontSize:d=>d.s,lineAnchor:"bottom",fill:"#222",fontFamily:ff,...o});
place({x:{domain:[0,2001],axis:null},y:{domain:[0,1167],range:[0,1167],axis:null},marks:[
  Plot.rect(legendSwatches,{x1:()=>119,x2:()=>150,y1:"y1",y2:"y2",fill:"c",stroke:"#c9c6d6",strokeWidth:1}),
  tx(textLabels,{textAnchor:"start"}),tx(centerLabels,{textAnchor:"middle"}),tx(endLabels,{textAnchor:"end"}),
  Plot.text([{t:"t",x:864,y:1099}],{x:"x",y:"y",text:"t",fontSize:21,fontStyle:"italic",lineAnchor:"bottom",fill:"#222",fontFamily:ff}),
  Plot.text(boldTitles,{x:"x",y:"y",text:"t",fontSize:26,fontWeight:"bold",lineAnchor:"bottom",fill:"#222",fontFamily:ff}),
  Plot.text(yTitles,{x:"x",y:"y",text:"t",fontSize:27,rotate:-90,fill:"#222",fontFamily:ff}),
  Plot.text(solidStars,{x:"x",y:"y",text:"t",fill:"c",stroke:"c",strokeWidth:.6,fontSize:26,fontFamily:"DejaVu Sans"}),
  Plot.text(hollowStars,{x:"x",y:"y",text:"t",fill:"#dcdce6",stroke:"c",strokeWidth:1.4,fontSize:26,fontFamily:"DejaVu Sans"}),
  ...["a","b","c","d"].map(id=>{const l=legendLines.filter(e=>e.id===id);return Plot.line(l,{x:"x",y:"y",stroke:l[0].c,strokeWidth:l[0].w,strokeDasharray:l[0].d});}),
  Plot.dot(legendDots,{x:()=>1801.6,y:"y",r:10,fill:"c",stroke:"#8e8e8e",strokeWidth:1.5}),
  Plot.line(keyDark,{x:"x",y:"y",fill:dark,stroke:"#7a7b7d",strokeWidth:1.5}),
  Plot.line(keyBand,{x:"x",y:"y",fill:black,stroke:"none"}),
  Plot.line(keyLight,{x:"x",y:"y",fill:light,stroke:"none"}),
  Plot.text(keyText,{x:"x",y:"y",text:"t",rotate:"r",fill:"c",fontSize:15,fontFamily:ff})
]},0,0,2001,1167);
</script></body></html>
